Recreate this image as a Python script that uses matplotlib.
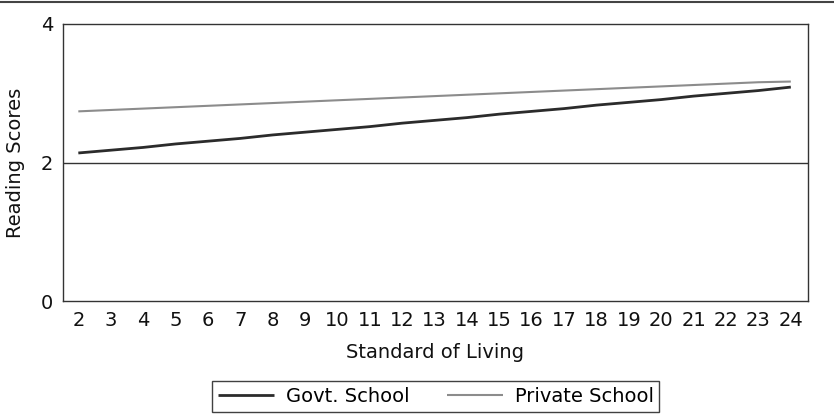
import matplotlib
matplotlib.use("Agg")
import matplotlib.pyplot as plt
from matplotlib.lines import Line2D

plt.rcParams['font.family'] = ['DejaVu Sans']

standard_of_living = list(range(2, 25))
govt_school = [2.14, 2.18, 2.22, 2.27, 2.31, 2.35, 2.40, 2.44, 2.48, 2.52, 2.57, 2.61,
               2.65, 2.70, 2.74, 2.78, 2.83, 2.87, 2.91, 2.96, 3.00, 3.04, 3.09]
private_school = [2.74, 2.76, 2.78, 2.80, 2.82, 2.84, 2.86, 2.88, 2.90, 2.92, 2.94, 2.96,
                  2.98, 3.00, 3.02, 3.04, 3.06, 3.08, 3.10, 3.12, 3.14, 3.16, 3.17]
y_ticks = [0, 2, 4]

fig = plt.figure(figsize=(8.34, 4.2), dpi=100)
ax = fig.add_axes([0.0752, 0.2824, 0.9688 - 0.0752, 0.9429 - 0.2824])

ax.plot(standard_of_living, govt_school, color='#2b2b2b', lw=2.0, label='Govt. School',
        solid_capstyle='butt')
ax.plot(standard_of_living, private_school, color='#8c8c8c', lw=1.5, label='Private School',
        solid_capstyle='butt')

FS = 14
ax.set_xlim(1.518, 24.53)
ax.set_ylim(0, 4)
ax.set_yticks(y_ticks)
ax.set_xticks(standard_of_living)
ax.tick_params(axis='both', length=0, labelsize=FS, colors='#111111')
ax.tick_params(axis='y', pad=7)
ax.tick_params(axis='x', pad=7)
ax.axhline(2, color='#333333', lw=1.0)
for s in ax.spines.values():
    s.set_color('#333333')
    s.set_linewidth(1.0)

ax.set_xlabel('Standard of Living', fontsize=FS, labelpad=9, color='#111111')
ax.set_ylabel('Reading Scores', fontsize=FS, labelpad=11, color='#111111')

leg = ax.legend(loc='center', bbox_to_anchor=(0.5006, -0.3435), ncol=2, fontsize=FS,
                frameon=True, fancybox=False, edgecolor='#111111', handlelength=2.9,
                columnspacing=1.9, handletextpad=0.6, borderpad=0.3, borderaxespad=0)
leg.get_frame().set_linewidth(1.0)

fig.add_artist(Line2D([0, 1], [1 - 2 / 420, 1 - 2 / 420], transform=fig.transFigure,
                      color='#444444', lw=1.5))

fig.savefig('out.png', dpi=100)
